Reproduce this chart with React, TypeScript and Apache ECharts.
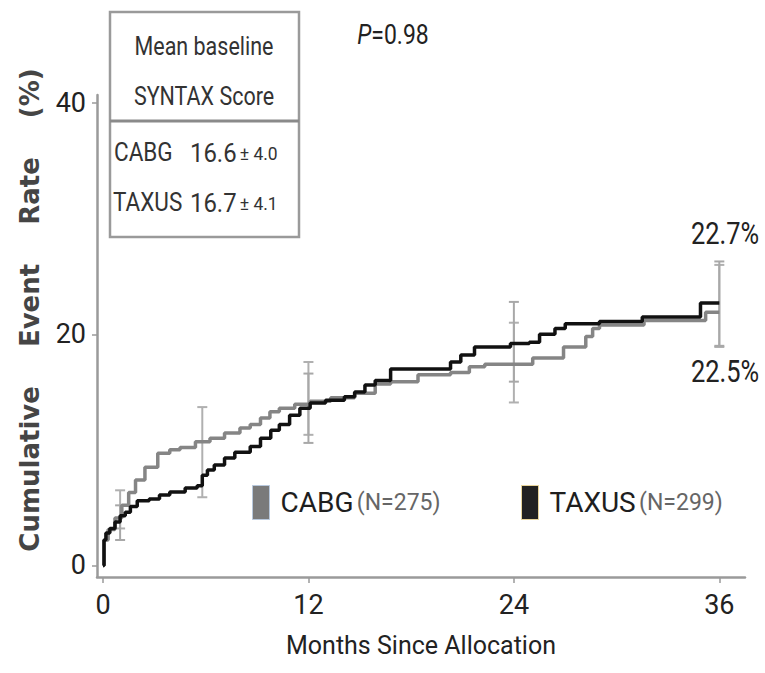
import React, { useEffect, useRef } from "react";
import * as echarts from "echarts";

// ---- data ----
const xTicks = [0, 12, 24, 36];
const yTicks = [0, 20, 40];

const cabgMonths = [0, 0.06, 0.3, 0.7, 1.1, 1.5, 1.9, 2.45, 3.2, 3.9, 4.5, 5.4, 6.25, 7.1, 8.0, 8.6, 9.2, 9.75, 10.3, 11.2, 12.1, 13.3, 14.7, 15.9, 16.8, 18.4, 20.3, 21.4, 22.3, 25.1, 26.9, 28.2, 28.6, 29.0, 31.6, 35.2, 36.0];
const cabgRates = [0, 2.2, 3.1, 4.1, 5.2, 6.3, 7.4, 8.5, 9.7, 10.0, 10.2, 10.7, 11.0, 11.45, 11.9, 12.2, 12.75, 13.3, 13.6, 13.95, 14.2, 14.5, 14.9, 15.7, 15.9, 16.5, 16.7, 17.2, 17.4, 17.95, 18.9, 19.8, 20.5, 20.8, 21.2, 21.9, 21.9];

const taxusMonths = [0, 0.06, 0.17, 0.4, 0.7, 1.0, 1.3, 1.6, 2.0, 2.7, 3.3, 3.9, 4.8, 5.5, 5.8, 6.1, 6.5, 7.1, 7.7, 8.6, 9.2, 9.8, 10.3, 10.9, 11.5, 12.1, 13.0, 14.1, 14.7, 15.3, 15.9, 16.8, 20.3, 20.9, 21.7, 23.8, 24.9, 25.5, 26.4, 27.0, 29.0, 31.5, 34.9, 36.0];
const taxusRates = [0, 2.2, 2.8, 3.2, 3.75, 4.3, 4.6, 5.1, 5.6, 5.75, 6.1, 6.35, 6.7, 6.9, 7.8, 8.25, 8.7, 9.3, 9.8, 10.3, 11.0, 11.7, 12.2, 13.0, 13.6, 14.05, 14.3, 14.6, 15.0, 15.6, 16.0, 17.0, 17.6, 18.2, 18.9, 19.2, 19.3, 20.0, 20.5, 20.9, 21.1, 21.5, 22.7, 22.7];

// error bars: month, lower, upper
const cabgCIMonths = [1, 5.8, 12, 24, 36];
const cabgCILow = [3.2, 5.9, 11.3, 14.1, 18.9];
const cabgCIHigh = [6.5, 13.7, 17.6, 21.0, 26.0];
const taxusCIMonths = [1, 12, 24, 36];
const taxusCILow = [2.2, 10.6, 15.9, 19.0];
const taxusCIHigh = [5.2, 16.6, 22.8, 26.3];

const groupNames = ["CABG", "TAXUS"];
const groupN = ["(N=275)", "(N=299)"];
const syntaxMeans = ["16.6", "16.7"];
const syntaxSD = ["± 4.0", "± 4.1"];
const finalLabels = ["22.7%", "22.5%"];
const pValue = "0.98";

const COND = "Roboto, 'Liberation Sans', sans-serif";
const NARROW = 0.82;

function zip(a: number[], b: number[]) {
  return a.map((v, i) => [v, b[i]]);
}
function zip3(a: number[], b: number[], c: number[]) {
  return a.map((v, i) => [v, b[i], c[i]]);
}

function errRender(color: string) {
  return (params: any, api: any) => {
    const x = api.value(0);
    const lo = api.coord([x, api.value(1)]);
    const hi = api.coord([x, api.value(2)]);
    const w = 5;
    const st = { stroke: color, lineWidth: 2 };
    return {
      type: "group",
      children: [
        { type: "line", shape: { x1: lo[0], y1: lo[1], x2: hi[0], y2: hi[1] }, style: st },
        { type: "line", shape: { x1: lo[0] - w, y1: lo[1], x2: lo[0] + w, y2: lo[1] }, style: st },
        { type: "line", shape: { x1: hi[0] - w, y1: hi[1], x2: hi[0] + w, y2: hi[1] }, style: st },
      ],
    };
  };
}

function legendFor(i: number, left: number, iconColor: string, border: string) {
  return {
    data: [{ name: groupNames[i], itemStyle: { color: iconColor, borderColor: border, borderWidth: 1 } }],
    left,
    top: 485,
    padding: 0,
    icon: "rect",
    itemWidth: 17,
    itemHeight: 34,
    itemGap: 0,
    selectedMode: false,
    formatter: () => `{a|${groupNames[i]}} {b|${groupN[i]}}`,
    textStyle: {
      padding: [0, 0, 0, 6],
      rich: {
        a: { fontSize: 28, color: "#1e1e1e", fontFamily: COND },
        b: { fontSize: 23, color: "#666", fontFamily: COND },
      },
    },
  };
}

export default function App() {
  const ref = useRef<HTMLDivElement>(null);
  useEffect(() => {
    if (!ref.current) return;
    const chart = echarts.init(ref.current, null, { renderer: "svg" });
    const axisColor = "#9a9a9a";
    const boxText = (text: string, x: number, y: number, align: string, scale: number) => ({
      type: "text",
      x,
      y,
      z: 11,
      scaleX: scale,
      style: { text, fontSize: 25, fill: "#333", fontFamily: COND, align, verticalAlign: "middle" },
    });
    const scoreText = (i: number, y: number) => ({
      type: "text",
      x: 190,
      y,
      z: 11,
      scaleX: 0.92,
      style: {
        text: `{m|${syntaxMeans[i]}} {s|${syntaxSD[i]}}`,
        align: "left",
        verticalAlign: "middle",
        rich: {
          m: { fontSize: 26, fill: "#333", fontFamily: COND },
          s: { fontSize: 19, fill: "#333", fontFamily: COND },
        },
      },
    });
    const option: any = {
      animation: false,
      backgroundColor: "#ffffff",
      grid: { left: 97, right: 20, top: 95, bottom: 96 },
      xAxis: {
        type: "value",
        min: -0.35,
        max: 37.5,
        axisLine: { onZero: false, lineStyle: { color: axisColor, width: 2.5 } },
        axisTick: { customValues: xTicks, length: 6, lineStyle: { color: axisColor, width: 1.5 } },
        axisLabel: { customValues: xTicks, fontSize: 27, color: "#222", fontFamily: COND, margin: 14 },
        splitLine: { show: false },
        name: "Months Since Allocation",
        nameLocation: "middle",
        nameGap: 56,
        nameTextStyle: { fontSize: 25, color: "#222", fontFamily: COND },
      },
      yAxis: {
        type: "value",
        min: -1,
        max: 40.7,
        axisLine: { show: true, onZero: false, lineStyle: { color: axisColor, width: 2.5 } },
        axisTick: { show: true, customValues: yTicks, length: 5, lineStyle: { color: axisColor, width: 1.5 } },
        axisLabel: { customValues: yTicks, fontSize: 27, color: "#222", fontFamily: COND, margin: 11 },
        splitLine: { show: false },
      },
      legend: [
        legendFor(0, 252, "#7a7a7a", "#b8c8dc"),
        legendFor(1, 521, "#222222", "#e8d49a"),
      ],
      series: [
        {
          type: "custom",
          name: "CABG CI",
          renderItem: errRender("#b0b0b0"),
          data: zip3(cabgCIMonths, cabgCILow, cabgCIHigh),
          encode: { x: 0, y: [1, 2] },
          z: 1,
          silent: true,
        },
        {
          type: "custom",
          name: "TAXUS CI",
          renderItem: errRender("#a8a8a8"),
          data: zip3(taxusCIMonths, taxusCILow, taxusCIHigh),
          encode: { x: 0, y: [1, 2] },
          z: 1,
          silent: true,
        },
        {
          type: "line",
          name: groupNames[0],
          step: "end",
          showSymbol: false,
          color: "#858585",
          lineStyle: { color: "#858585", width: 3.5 },
          data: zip(cabgMonths, cabgRates),
          z: 2,
        },
        {
          type: "line",
          name: groupNames[1],
          step: "end",
          showSymbol: false,
          color: "#111111",
          lineStyle: { color: "#111111", width: 3.5 },
          data: zip(taxusMonths, taxusRates),
          z: 3,
        },
      ],
      graphic: [
        {
          type: "text",
          x: 30,
          y: 310,
          rotation: Math.PI / 2,
          style: {
            text: "Cumulative\u2003\u2002Event\u2003\u2002Rate\u2003\u2002(%)",
            fontSize: 26,
            fontWeight: "bold",
            fontFamily: "'DejaVu Sans', sans-serif",
            fill: "#454545",
            align: "center",
            verticalAlign: "middle",
          },
        },
        {
          type: "text",
          x: 393,
          y: 34,
          scaleX: NARROW,
          style: {
            text: `{i|P}=${pValue}`,
            align: "center",
            verticalAlign: "middle",
            rich: {
              i: { fontSize: 28, fontStyle: "italic", fill: "#222", fontFamily: COND },
            },
            fontSize: 28,
            fill: "#222",
            fontFamily: COND,
          },
        },
        {
          type: "text",
          x: 725,
          y: 234,
          scaleX: NARROW,
          style: { text: finalLabels[0], fontSize: 31, fill: "#222", fontFamily: COND, align: "center", verticalAlign: "middle" },
        },
        {
          type: "text",
          x: 725,
          y: 372,
          scaleX: NARROW,
          style: { text: finalLabels[1], fontSize: 31, fill: "#222", fontFamily: COND, align: "center", verticalAlign: "middle" },
        },
        {
          type: "rect",
          shape: { x: 110, y: 12, width: 189, height: 225 },
          style: { fill: "#ffffff", stroke: "#9a9a9a", lineWidth: 2.5 },
          z: 10,
        },
        {
          type: "line",
          shape: { x1: 110, y1: 121, x2: 299, y2: 121 },
          style: { stroke: "#8a8a8a", lineWidth: 3 },
          z: 11,
        },
        boxText("Mean baseline", 204, 46, "center", 0.86),
        boxText("SYNTAX Score", 204, 96, "center", 0.86),
        boxText(groupNames[0], 114, 153, "left", 0.9),
        boxText(groupNames[1], 113, 203, "left", 0.9),
        scoreText(0, 153),
        scoreText(1, 203),
      ],
    };
    chart.setOption(option);
    return () => chart.dispose();
  }, []);
  return (
    <div
      ref={ref}
      style={{ position: "fixed", left: 0, top: 0, width: 765, height: 673, background: "#fff" }}
    />
  );
}
